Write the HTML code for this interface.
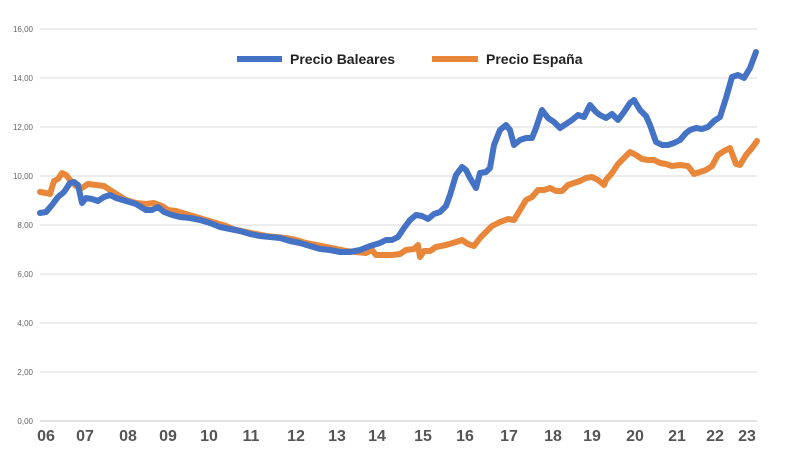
<!DOCTYPE html>
<html><head><meta charset="utf-8"><style>
html,body{margin:0;padding:0;background:#fff;}
svg{display:block;}
</style></head><body>
<svg width="796" height="470" xmlns="http://www.w3.org/2000/svg" font-family="Liberation Sans, sans-serif">
<g stroke="#e6e6e6" stroke-width="1.5">
<line x1="40" x2="757" y1="29" y2="29"/><line x1="40" x2="757" y1="78" y2="78"/>
<line x1="40" x2="757" y1="127" y2="127"/><line x1="40" x2="757" y1="176" y2="176"/>
<line x1="40" x2="757" y1="225" y2="225"/><line x1="40" x2="757" y1="274" y2="274"/>
<line x1="40" x2="757" y1="323" y2="323"/><line x1="40" x2="757" y1="372" y2="372"/>
<line x1="40" x2="757" y1="421" y2="421" stroke="#d8d8d8"/>
</g>
<g font-size="8" fill="#666" text-anchor="end">
<text x="33" y="32">16,00</text><text x="33" y="81">14,00</text><text x="33" y="130">12,00</text>
<text x="33" y="179">10,00</text><text x="33" y="228">8,00</text><text x="33" y="277">6,00</text>
<text x="33" y="326">4,00</text><text x="33" y="375">2,00</text><text x="33" y="424">0,00</text>
</g>
<g font-size="16" font-weight="bold" fill="#555" text-anchor="middle">
<text x="46" y="441">06</text><text x="85" y="441">07</text><text x="128" y="441">08</text>
<text x="168" y="441">09</text><text x="209" y="441">10</text><text x="251" y="441">11</text>
<text x="296" y="441">12</text><text x="337" y="441">13</text><text x="377" y="441">14</text>
<text x="423" y="441">15</text><text x="465" y="441">16</text><text x="509" y="441">17</text>
<text x="553" y="441">18</text><text x="592" y="441">19</text><text x="635" y="441">20</text>
<text x="677" y="441">21</text><text x="715" y="441">22</text><text x="747" y="441">23</text>
</g>
<polyline fill="none" stroke="#e8873a" stroke-width="6" stroke-linejoin="round" stroke-linecap="round" points="40,192 46,193 50,194 54,181 58,179 62,173 66,175 70,180 76,186 82,188 88,184 96,185 104,186 110,190 118,195 126,200 136,203 146,204 154,203 162,206 168,210 176,211 186,214 196,217 206,220 216,223 226,226 236,230 246,232 256,234 266,236 276,237 286,238 296,240 306,243 316,245 326,247 336,249 346,251 356,252 366,253 372,250 376,255 384,255 392,255 400,254 406,250 414,249 418,245 420,257 424,251 430,251 436,247 446,245 456,242 462,240 468,244 474,246 480,238 486,232 492,226 500,222 508,219 514,220 520,210 526,200 532,197 538,190 544,190 550,188 556,191 562,191 568,185 574,183 580,181 586,178 592,177 598,180 604,185 606,180 612,173 618,164 624,158 630,152 636,155 642,159 648,160 654,160 660,163 666,164 672,166 680,165 688,166 694,174 700,172 706,170 712,166 718,155 724,151 730,148 736,164 740,165 746,155 752,148 757,141"/>
<polyline fill="none" stroke="#4472c4" stroke-width="6" stroke-linejoin="round" stroke-linecap="round" points="40,213 46,212 52,205 58,197 64,192 70,183 74,182 78,185 82,203 86,198 92,199 98,201 104,197 110,195 116,198 126,201 136,204 146,210 152,210 158,207 164,212 172,215 180,217 190,218 200,220 210,223 220,227 230,229 240,231 250,234 260,236 270,237 280,238 290,241 300,243 310,246 320,249 330,250 340,252 350,252 360,250 370,246 380,243 386,240 392,240 398,237 404,228 410,220 416,215 422,216 428,219 434,214 440,212 446,206 450,195 456,175 462,167 466,170 470,178 476,188 480,173 486,172 490,168 494,145 500,130 506,125 510,130 514,145 520,140 526,138 532,138 536,128 542,110 548,118 554,122 560,128 566,124 572,120 578,115 584,117 590,105 596,112 600,115 606,118 612,114 618,120 624,112 630,103 634,100 640,110 646,116 650,125 656,142 662,145 668,145 674,143 680,140 686,133 690,130 696,128 702,129 708,127 714,121 720,117 726,98 732,77 738,75 744,78 750,68 756,52"/>
<line x1="237" x2="282" y1="59" y2="59" stroke="#4472c4" stroke-width="6"/>
<text x="290" y="64" font-size="14" font-weight="bold" fill="#222">Precio Baleares</text>
<line x1="432" x2="478" y1="59" y2="59" stroke="#e8873a" stroke-width="6"/>
<text x="486" y="64" font-size="14" font-weight="bold" fill="#222">Precio España</text>
</svg>
</body></html>
